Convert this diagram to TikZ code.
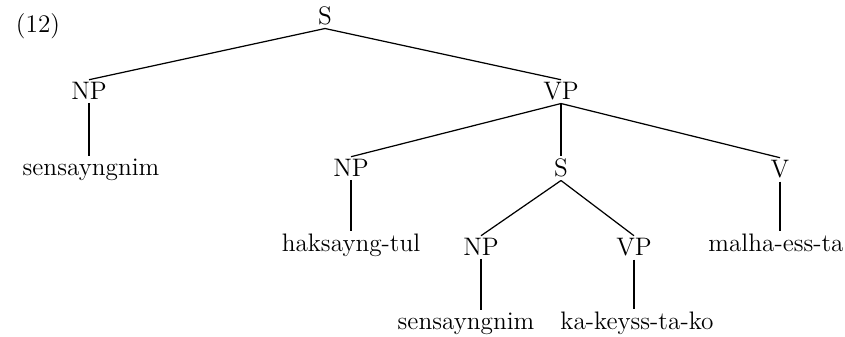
\documentclass[tikz,border=0pt]{standalone}
\usepackage{tikz}

\begin{document}
\begin{tikzpicture}[
        x=0.02cm,
        y=-0.02cm,
        cat/.style={anchor=base, inner sep=1.5pt, font=\fontsize{14.4}{17}\selectfont},
        word/.style={cat},
        branch/.style={line width=0.7pt}
    ]
        \useasboundingbox (0,0) rectangle (845,337);

        % --- Numéro de l'exemple ---
        \node[cat, anchor=base west] (num) at (13,33) {(12)};

        % --- Catégories (niveau 0 et 1) ---
        \node[cat] (s)   at (325,25)  {S};
        \node[cat] (np)  at (89,100)  {NP};
        \node[cat] (vp)  at (561,100) {VP};

        % --- Niveau 2 ---
        \node[cat] (npo) at (351,177) {NP};
        \node[cat] (ss)  at (561,177) {S};
        \node[cat] (v)   at (780,178) {V};

        % --- Niveau 3 : phrase enchâssée ---
        \node[cat] (nps) at (481,256) {NP};
        \node[cat] (vps) at (634,256) {VP};

        % --- Mots (feuilles) ---
        \node[word] (sens)  at (91,176)  {sensayngnim};
        \node[word] (hak)   at (351,252) {haksayng-tul};
        \node[word] (mal)   at (776,252) {malha-ess-ta};
        \node[word] (sensb) at (466,330) {sensayngnim};
        \node[word] (kak)   at (637,330) {ka-keyss-ta-ko};

        % --- Branches ---
        \draw[branch] (s.south) -- (np.north);
        \draw[branch] (s.south) -- (vp.north);
        \draw[branch] (vp.south) -- (npo.north);
        \draw[branch] (vp.south) -- (ss.north);
        \draw[branch] (vp.south) -- (v.north);
        \draw[branch] (ss.south) -- (nps.north);
        \draw[branch] (ss.south) -- (vps.north);

        % --- Branches verticales vers les mots ---
        \draw[branch] (np.south)  -- (np.south  |- sens.north);
        \draw[branch] (npo.south) -- (npo.south |- hak.north);
        \draw[branch] (v.south)   -- (v.south   |- mal.north);
        \draw[branch] (nps.south) -- (nps.south |- sensb.north);
        \draw[branch] (vps.south) -- (vps.south |- kak.north);

    \end{tikzpicture}
\end{document}
